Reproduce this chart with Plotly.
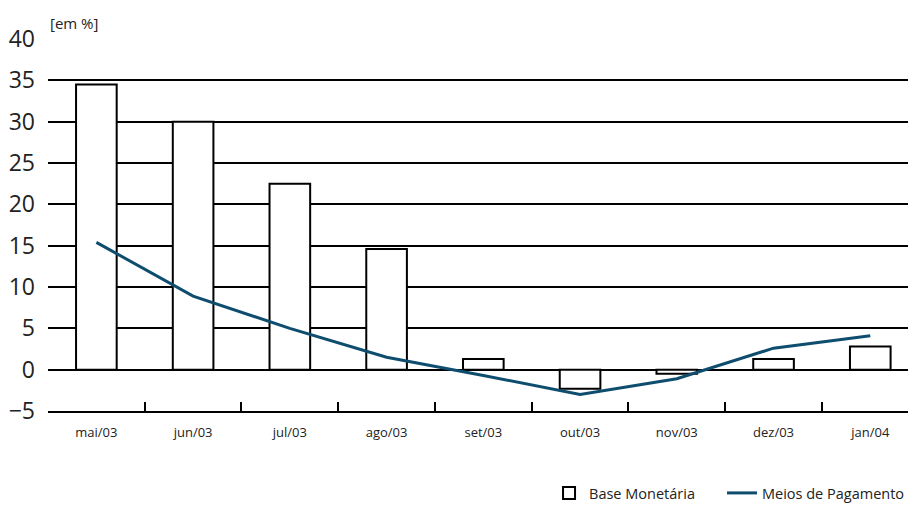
import plotly.graph_objects as go

months = ["mai/03", "jun/03", "jul/03", "ago/03", "set/03", "out/03", "nov/03", "dez/03", "jan/04"]
base_monetaria = [34.5, 30.0, 22.5, 14.6, 1.3, -2.3, -0.5, 1.3, 2.8]
meios_pagamento = [15.4, 8.9, 5.0, 1.5, -0.7, -3.0, -1.1, 2.6, 4.1]
y_ticks = [-5, 0, 5, 10, 15, 20, 25, 30, 35, 40]
y_tick_text = ["\u22125" if v < 0 else str(v) for v in y_ticks]

FONT = "Open Sans"
LINE_BLUE = "#0e4d6e"

fig = go.Figure()
fig.add_trace(go.Bar(
    x=months, y=base_monetaria, name="Base Monetária",
    width=0.42, marker=dict(color="white", line=dict(color="black", width=2)),
    legend="legend",
))
fig.add_trace(go.Scatter(
    x=months, y=meios_pagamento, name="Meios de Pagamento",
    mode="lines", line=dict(color=LINE_BLUE, width=3),
    legend="legend2",
))

legend_style = dict(
    orientation="h", xanchor="left", y=-0.2204, yanchor="middle",
    font=dict(size=14.5, family=FONT, color="#222"), itemwidth=30,
)

fig.update_layout(
    width=908, height=506,
    margin=dict(l=48, r=0, t=39, b=95, autoexpand=False),
    paper_bgcolor="white", plot_bgcolor="white",
    font=dict(family=FONT, color="#222"),
    showlegend=True,
    legend=dict(x=0.5826, **legend_style),
    legend2=dict(x=0.7837, **legend_style),
)

fig.update_xaxes(
    type="category", range=[-0.5, 8.39],
    showgrid=False, showline=True, linecolor="black", linewidth=1.5,
    ticks="inside", ticklen=9, tickwidth=1.5, tickcolor="black",
    tickson="boundaries",
    tickfont=dict(size=13, family=FONT, color="#222"),
    ticklabelstandoff=9,
)
fig.update_yaxes(
    range=[-5, 40], tickvals=y_ticks, ticktext=y_tick_text,
    showgrid=True, gridcolor="black", gridwidth=1.5,
    zeroline=False, showline=False, ticks="",
    tickfont=dict(size=23, family=FONT, color="#222"),
    ticklabelstandoff=12,
)

fig.add_annotation(
    text="[em %]", xref="paper", yref="paper", x=0.0, y=1.0,
    xanchor="left", yanchor="bottom", yshift=4, showarrow=False,
    font=dict(size=15, family=FONT, color="#222"),
)

fig.write_html("out.html")
